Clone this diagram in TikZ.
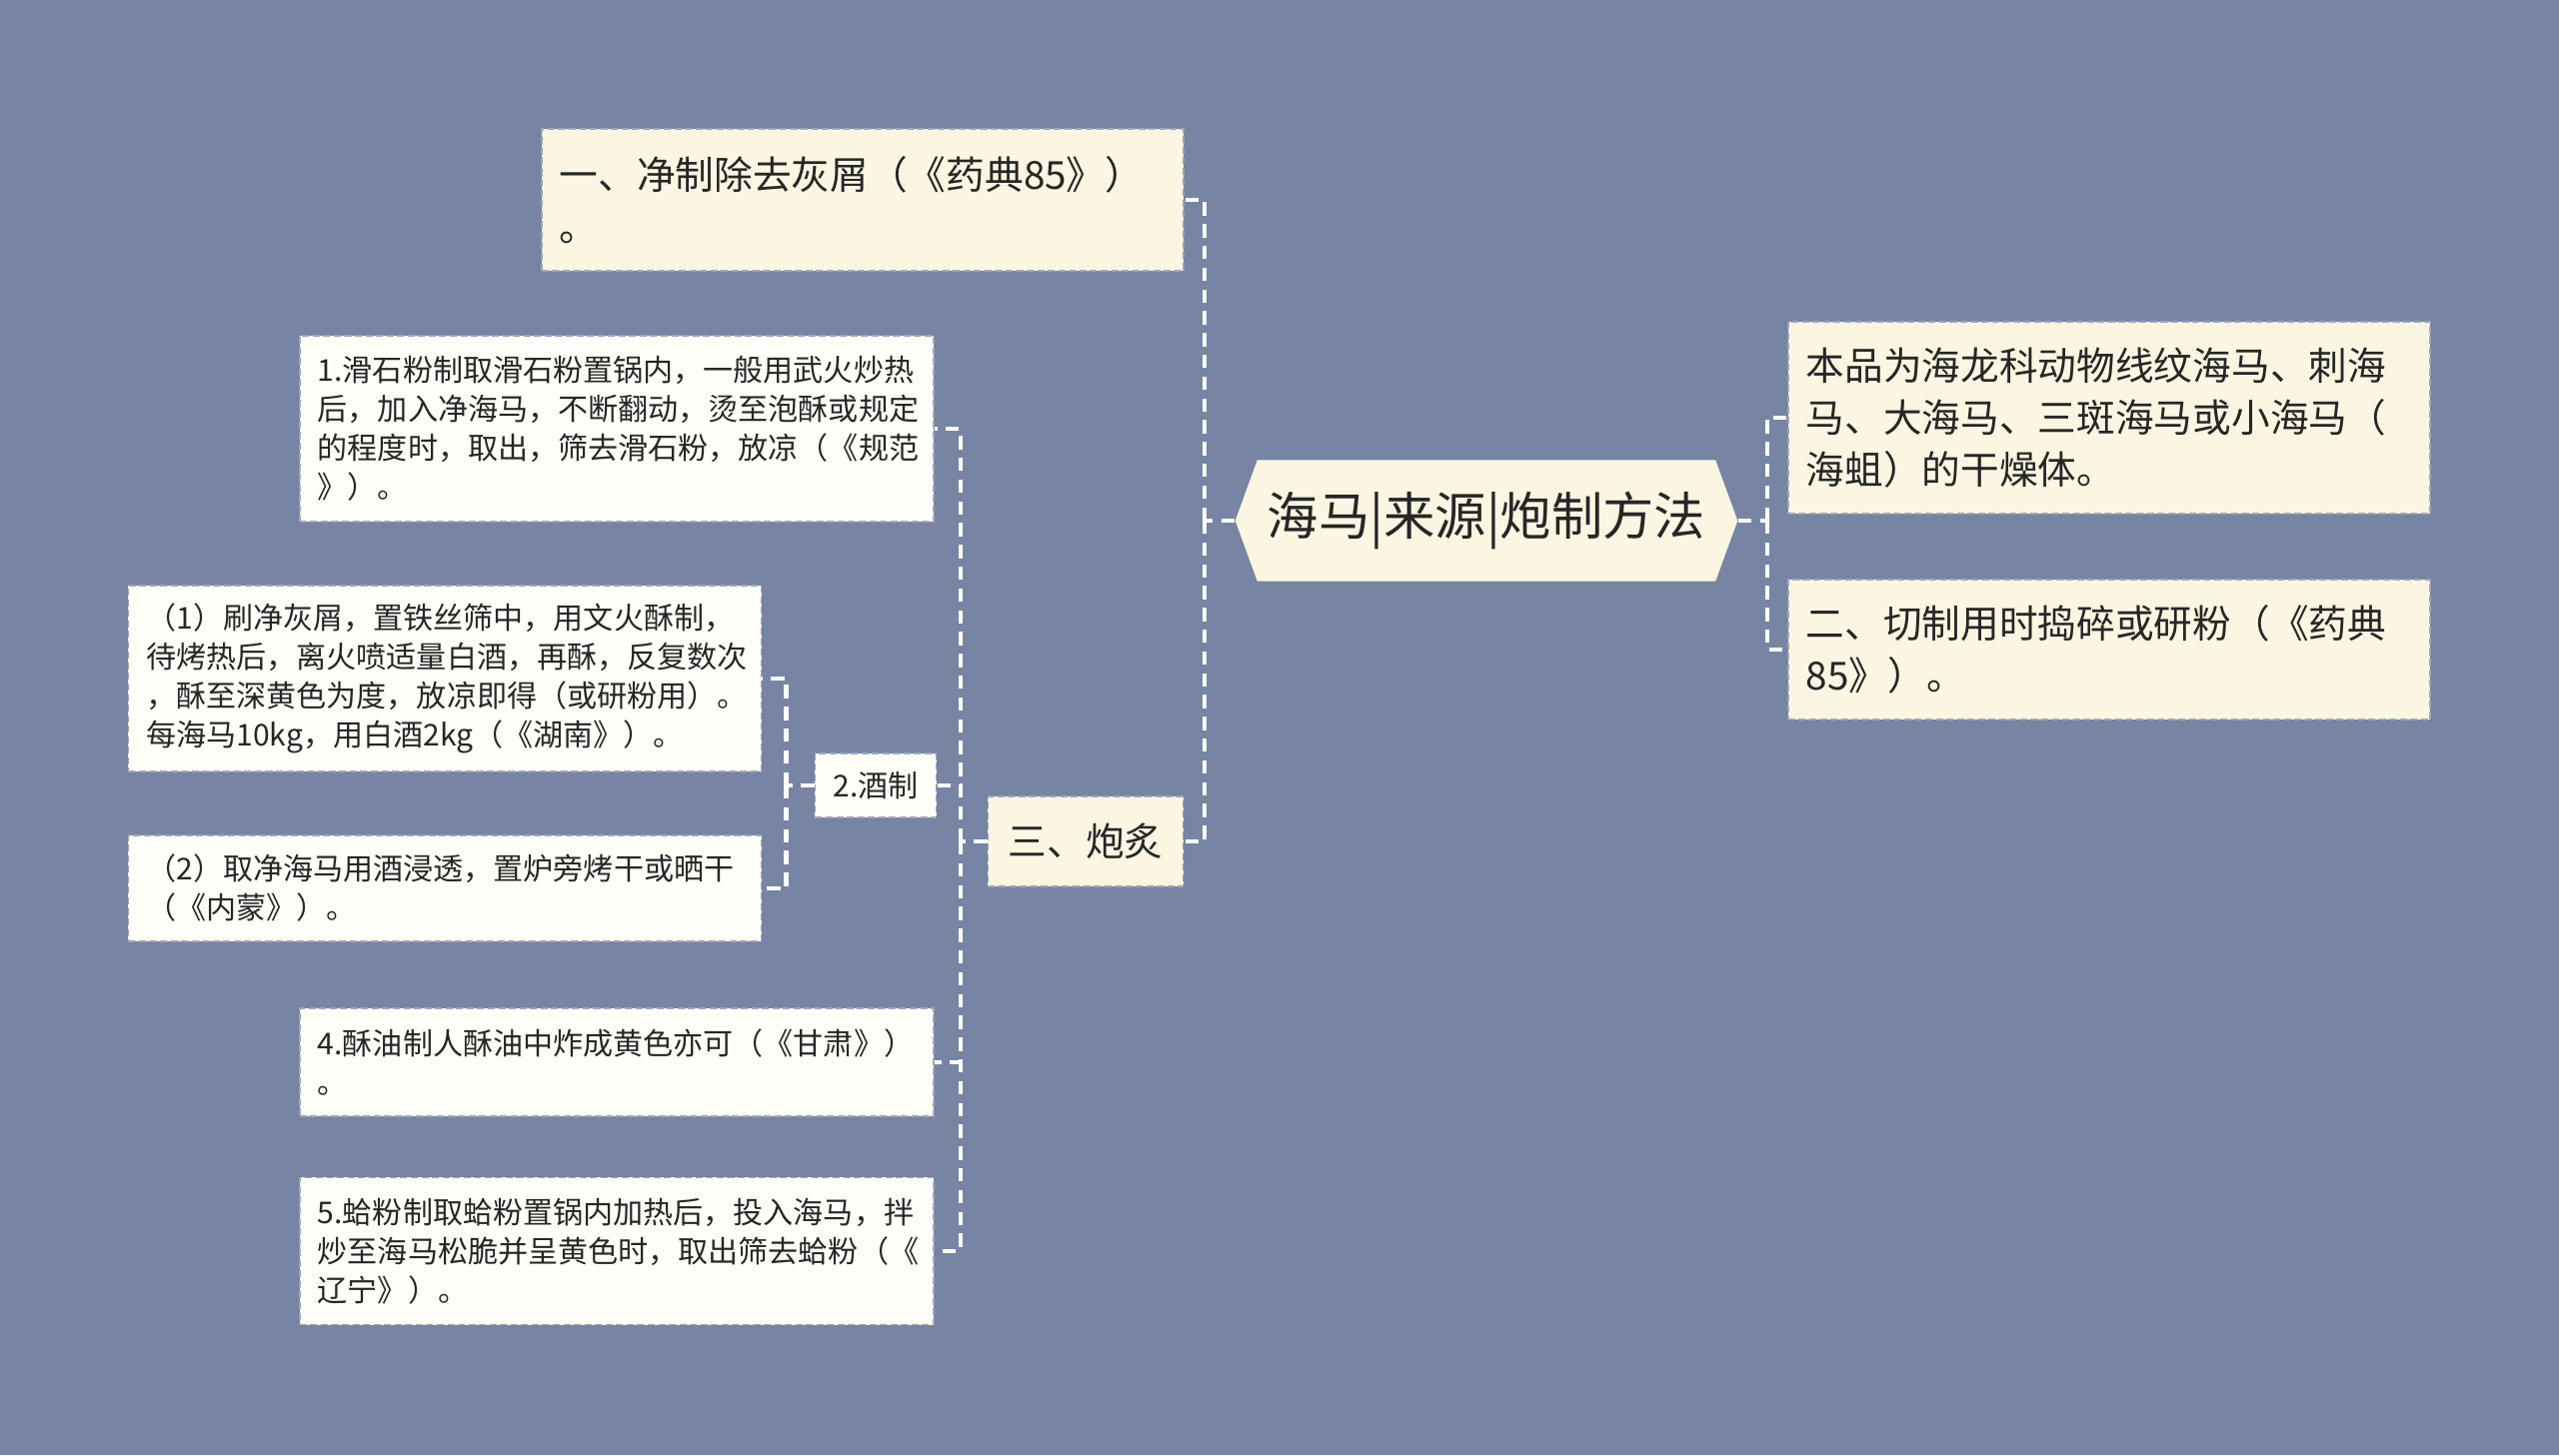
\documentclass[tikz,border=0pt]{standalone}
\usepackage{fontspec}
\setmainfont{Noto Sans CJK SC}
\usetikzlibrary{shapes.symbols}

\definecolor{bgblue}{HTML}{7784A3}
\definecolor{cream}{HTML}{FAF6E2}
\definecolor{paper}{HTML}{FFFEF8}
\definecolor{ink}{HTML}{262626}
\definecolor{rim}{HTML}{A0A6B8}

\tikzset{
	topic/.style={signal, signal to=west and east, signal pointer angle=140,
		fill=cream, text=ink, inner xsep=0.1cm, minimum height=1.21cm,
		font=\fontsize{14.6}{17}\selectfont},
	branch/.style={rectangle, fill=cream, draw=rim, line width=0.45pt,
		dash pattern=on 2pt off 1pt, text=ink, align=left, inner xsep=0.18cm,
		font=\fontsize{11}{14.7}\selectfont},
	leaf/.style={branch, fill=paper, font=\fontsize{8.55}{11.1}\selectfont},
	link/.style={draw=white, line width=1.2pt, dash pattern=on 3.8pt off 2.4pt},
}

\begin{document}
\begin{tikzpicture}[x=0.01cm, y=-0.01cm]
	\fill[bgblue] (0,0) rectangle (2560,1456);
	\useasboundingbox (0,0) rectangle (2560,1456);

	% central topic
	\node[topic, minimum width=4.49cm] (root) at (1487,521) {海马|来源|炮制方法};

	% right side
	\node[branch, text width=6.06cm, minimum height=1.92cm] (source) at (2110,418)
		{本品为海龙科动物线纹海马、刺海\\马、大海马、三斑海马或小海马（\\海蛆）的干燥体。};
	\node[branch, text width=6.06cm, minimum height=1.40cm] (cut) at (2110,650)
		{二、切制用时捣碎或研粉（《药典\\85》）。};

	% left side
	\node[branch, text width=6.06cm, minimum height=1.42cm] (clean) at (863,200)
		{一、净制除去灰屑（《药典85》）\\。};
	\node[branch, minimum width=1.95cm, minimum height=0.90cm] (roast) at (1086,842)
		{三、炮炙};

	\node[leaf, text width=5.98cm, minimum height=1.86cm] (talc) at (617,429)
		{1.滑石粉制取滑石粉置锅内，一般用武火炒热\\后，加入净海马，不断翻动，烫至泡酥或规定\\的程度时，取出，筛去滑石粉，放凉（《规范\\》）。};
	\node[leaf, minimum width=1.16cm, minimum height=0.64cm] (wine) at (876,786)
		{2.酒制};
	\node[leaf, text width=5.97cm, minimum height=1.86cm] (wineA) at (445,679)
		{（1）刷净灰屑，置铁丝筛中，用文火酥制，\\待烤热后，离火喷适量白酒，再酥，反复数次\\，酥至深黄色为度，放凉即得（或研粉用）。\\每海马10kg，用白酒2kg（《湖南》）。};
	\node[leaf, text width=5.97cm, minimum height=1.06cm] (wineB) at (445,889)
		{（2）取净海马用酒浸透，置炉旁烤干或晒干\\（《内蒙》）。};
	\node[leaf, text width=5.98cm, minimum height=1.08cm] (ghee) at (617,1063)
		{4.酥油制人酥油中炸成黄色亦可（《甘肃》）\\。};
	\node[leaf, text width=5.98cm, minimum height=1.47cm] (clam) at (617,1252)
		{5.蛤粉制取蛤粉置锅内加热后，投入海马，拌\\炒至海马松脆并呈黄色时，取出筛去蛤粉（《\\辽宁》）。};

	% junctions
	\coordinate (rootL) at ([xshift=-0.30cm]root.west);
	\coordinate (rootR) at ([xshift=0.29cm]root.east);
	\coordinate (roastL) at ([xshift=-0.27cm]roast.west);
	\coordinate (wineL) at ([xshift=-0.28cm]wine.west);

	% connectors
	\draw[link] (root.west) -- (rootL);
	\draw[link] (rootL) |- (clean.east);
	\draw[link] (rootL) |- (roast.east);
	\draw[link] (root.east) -- (rootR);
	\draw[link] (rootR) |- (source.west);
	\draw[link] (rootR) |- (cut.west);
	\draw[link] (roast.west) -- (roastL);
	\draw[link] (roastL) |- (talc.east);
	\draw[link] (roastL) |- (wine.east);
	\draw[link] (roastL) |- (ghee.east);
	\draw[link] (roastL) |- (clam.east);
	\draw[link] (wine.west) -- (wineL);
	\draw[link] (wineL) |- (wineA.east);
	\draw[link] (wineL) |- (wineB.east);
\end{tikzpicture}
\end{document}
